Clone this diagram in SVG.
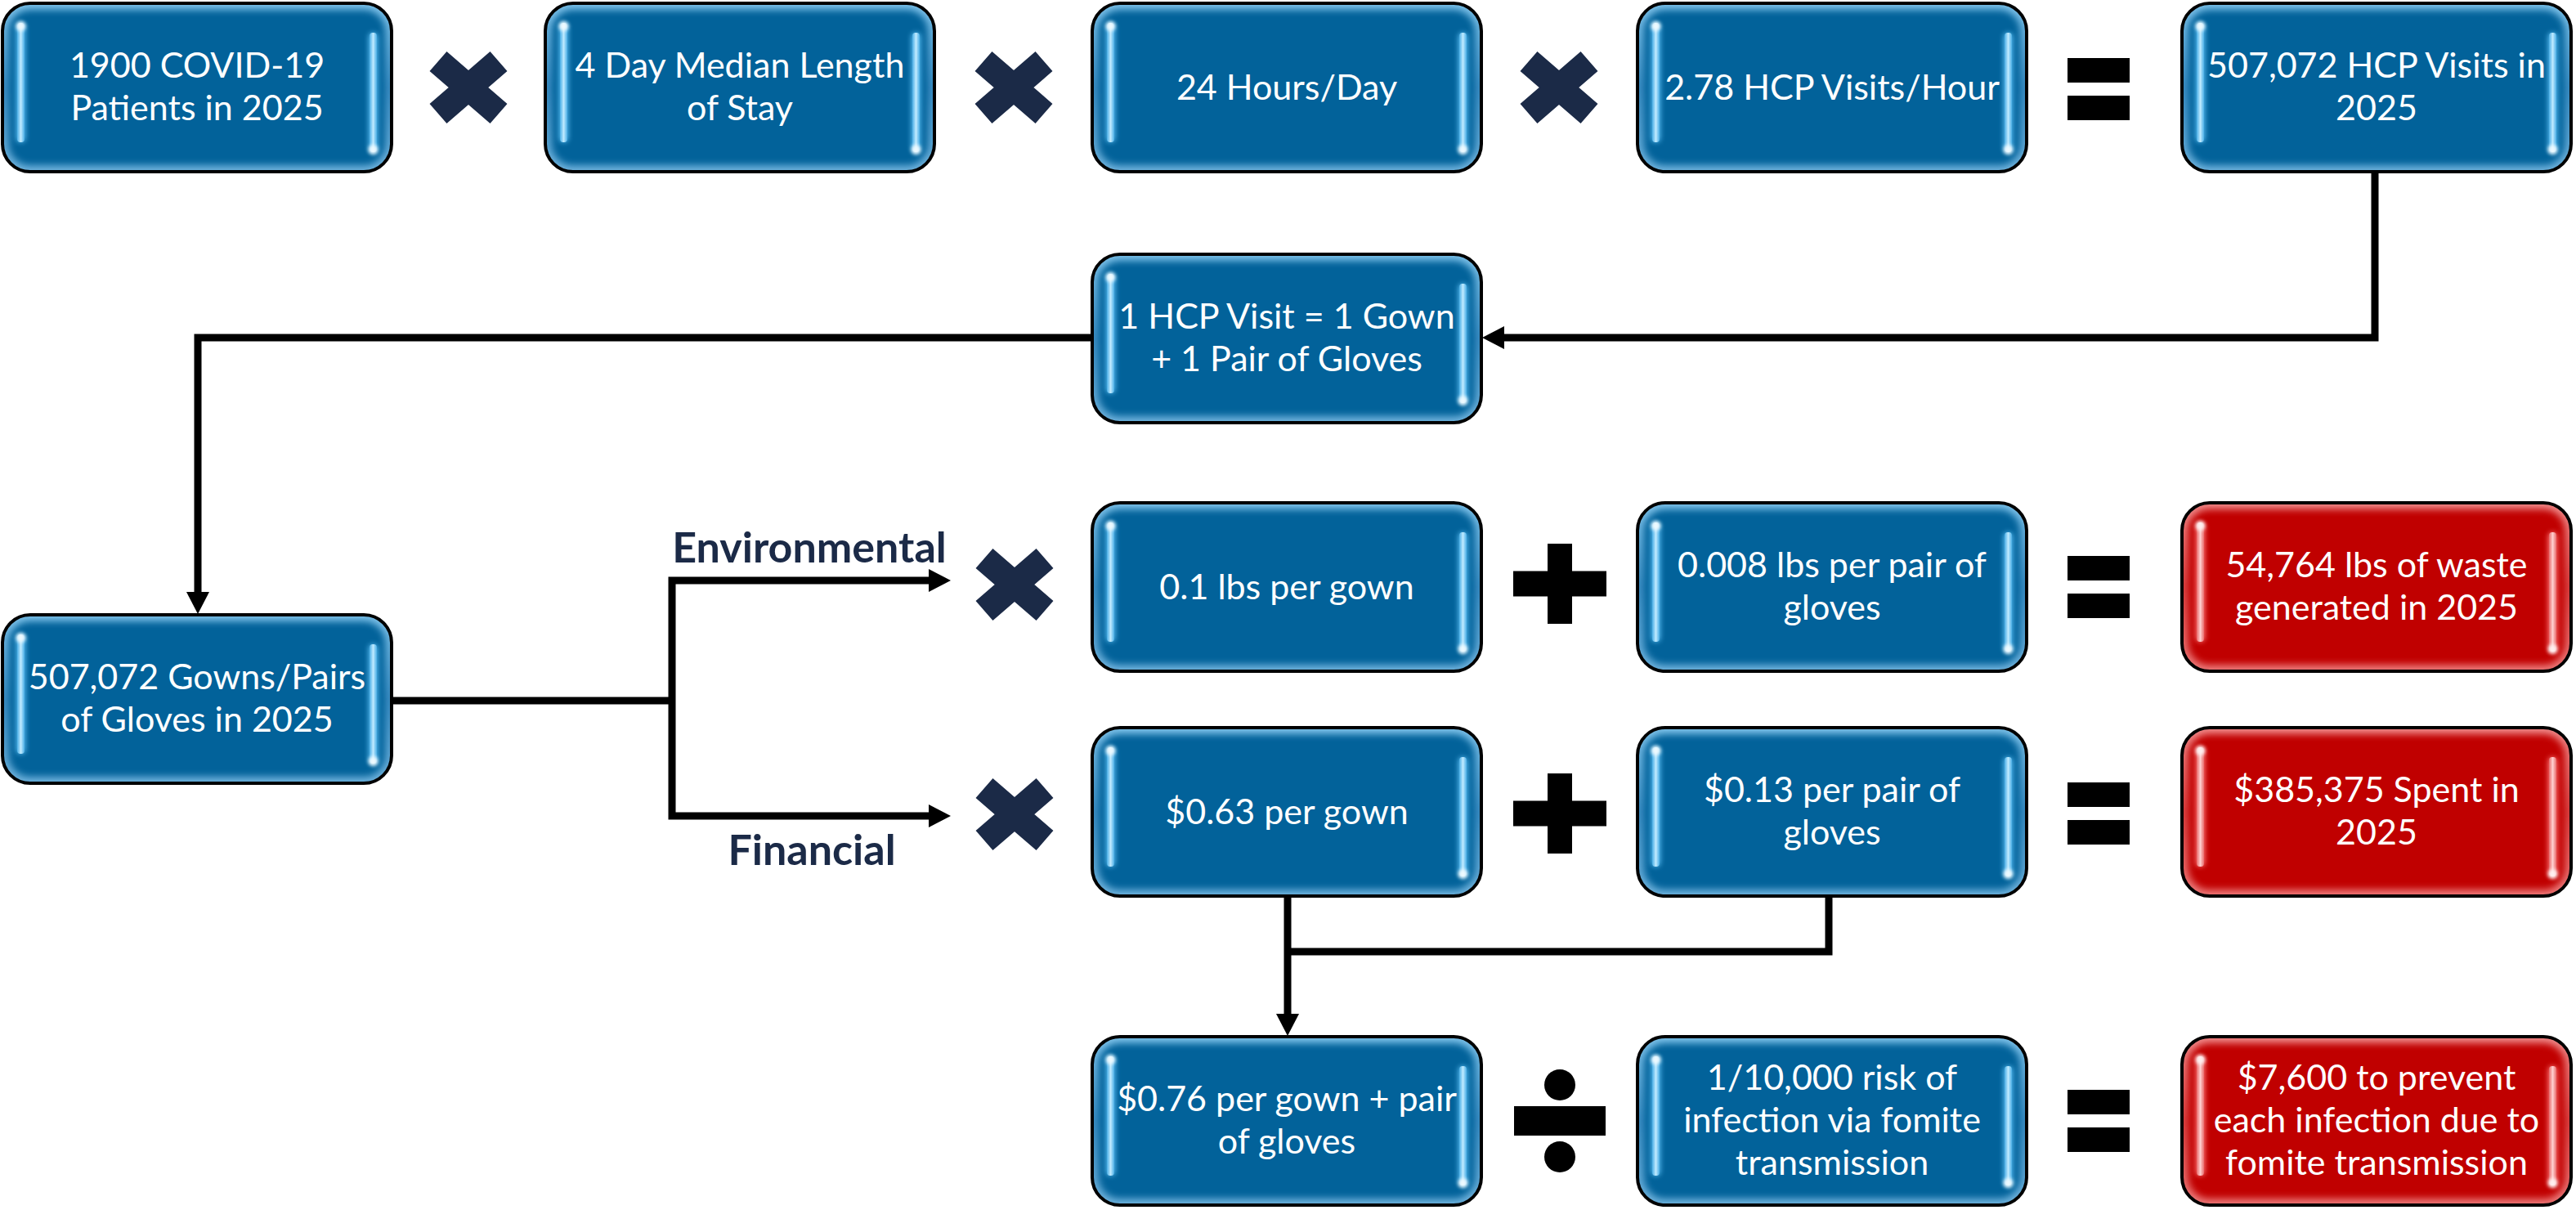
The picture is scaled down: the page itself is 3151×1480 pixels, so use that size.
<svg xmlns="http://www.w3.org/2000/svg" xmlns:xlink="http://www.w3.org/1999/xlink" width="3151" height="1480" viewBox="0 0 3151 1480">
<style>
.t{font-family:Lato,"Liberation Sans",sans-serif;font-size:43px;fill:#fff;text-anchor:middle}
.lbl{font-family:Lato,"Liberation Sans",sans-serif;font-size:52px;font-weight:bold;fill:#1B2A47;text-anchor:middle}
.con{fill:none;stroke:#000;stroke-width:9;stroke-linejoin:miter}
.arr{marker-end:url(#ah)}
.xm{stroke:#1B2A47;stroke-width:32;fill:none}
.op{fill:#000}
</style>
<defs>
<marker id="ah" markerUnits="userSpaceOnUse" markerWidth="28" markerHeight="28" viewBox="0 0 27 28" refX="1" refY="14" orient="auto"><path d="M0,0 L27,14 L0,28 Z" fill="#000"/></marker>
<filter id="soft" x="-10%" y="-10%" width="120%" height="120%"><feGaussianBlur stdDeviation="4"/></filter>
<filter id="soft2" x="-100%" y="-100%" width="300%" height="300%"><feGaussianBlur stdDeviation="2"/></filter>
<filter id="glow" x="-200%" y="-20%" width="500%" height="140%"><feGaussianBlur stdDeviation="3"/></filter>
<clipPath id="boxclip"><rect width="476" height="206" rx="34"/></clipPath>
<linearGradient id="rimB" x1="0" y1="0" x2="0" y2="1"><stop offset="0" stop-color="#7fc3ea"/><stop offset="0.5" stop-color="#3a8cc2"/><stop offset="1" stop-color="#6fb2dc"/></linearGradient>
<linearGradient id="rimR" x1="0" y1="0" x2="0" y2="1"><stop offset="0" stop-color="#f08a8a"/><stop offset="0.5" stop-color="#d84040"/><stop offset="1" stop-color="#ec7a7a"/></linearGradient>
<linearGradient id="stripB" x1="0" y1="0" x2="1" y2="0"><stop offset="0" stop-color="#4aaee6"/><stop offset="0.5" stop-color="#bfeaff"/><stop offset="1" stop-color="#4aaee6"/></linearGradient>
<linearGradient id="stripR" x1="0" y1="0" x2="1" y2="0"><stop offset="0" stop-color="#e86a6a"/><stop offset="0.5" stop-color="#ffd0d0"/><stop offset="1" stop-color="#e86a6a"/></linearGradient>
<g id="bb">
<rect width="476" height="206" rx="34" fill="#02629A"/>
<g clip-path="url(#boxclip)"><rect x="-2" y="-2" width="480" height="210" rx="36" fill="none" stroke="url(#rimB)" stroke-width="20" filter="url(#soft)"/></g>
<rect x="17" y="24" width="11" height="146" rx="5" fill="#5cc0f5" filter="url(#glow)"/>
<rect x="448" y="36" width="11" height="146" rx="5" fill="#5cc0f5" filter="url(#glow)"/>
<rect x="18" y="24" width="9" height="146" rx="4" fill="url(#stripB)"/>
<circle cx="22.5" cy="28" r="6" fill="#eefaff" filter="url(#soft2)"/>
<rect x="449" y="36" width="9" height="146" rx="4" fill="url(#stripB)"/>
<circle cx="453.5" cy="179" r="6" fill="#eefaff" filter="url(#soft2)"/>
<rect width="476" height="206" rx="34" fill="none" stroke="#000" stroke-width="4"/>
</g>
<g id="rb">
<rect width="476" height="206" rx="34" fill="#C00000"/>
<g clip-path="url(#boxclip)"><rect x="-2" y="-2" width="480" height="210" rx="36" fill="none" stroke="url(#rimR)" stroke-width="20" filter="url(#soft)"/></g>
<rect x="17" y="24" width="11" height="146" rx="5" fill="#ff7a7a" filter="url(#glow)"/>
<rect x="448" y="36" width="11" height="146" rx="5" fill="#ff7a7a" filter="url(#glow)"/>
<rect x="18" y="24" width="9" height="146" rx="4" fill="url(#stripR)"/>
<circle cx="22.5" cy="28" r="6" fill="#fff0f0" filter="url(#soft2)"/>
<rect x="449" y="36" width="9" height="146" rx="4" fill="url(#stripR)"/>
<circle cx="453.5" cy="179" r="6" fill="#fff0f0" filter="url(#soft2)"/>
<rect width="476" height="206" rx="34" fill="none" stroke="#000" stroke-width="4"/>
</g>
<g id="xmark"><path class="xm" d="M-37,-32 L37,32 M-37,32 L37,-32"/></g>
<g id="plus"><rect class="op" x="-57" y="-15.5" width="114" height="31"/><rect class="op" x="-15" y="-49" width="30" height="98"/></g>
<g id="eq"><rect class="op" x="-38" y="-38" width="76" height="30"/><rect class="op" x="-38" y="8" width="76" height="30"/></g>
<g id="div"><rect class="op" x="-56" y="-18" width="112" height="36"/><circle class="op" cx="0" cy="-44" r="19"/><circle class="op" cx="0" cy="44" r="19"/></g>
</defs>
<rect width="3151" height="1480" fill="#fff"/>

<g id="node-a"><use href="#bb" x="3" y="4"/><text class="t" x="241" y="95">1900 COVID-19</text><text class="t" x="241" y="147">Patients in 2025</text></g>
<g id="node-b"><use href="#bb" x="667" y="4"/><text class="t" x="905" y="95">4 Day Median Length</text><text class="t" x="905" y="147">of Stay</text></g>
<g id="node-c"><use href="#bb" x="1336" y="4"/><text class="t" x="1574" y="122">24 Hours/Day</text></g>
<g id="node-d"><use href="#bb" x="2003" y="4"/><text class="t" x="2241" y="122">2.78 HCP Visits/Hour</text></g>
<g id="node-e"><use href="#bb" x="2669" y="4"/><text class="t" x="2907" y="95">507,072 HCP Visits in</text><text class="t" x="2907" y="147">2025</text></g>
<g id="node-f"><use href="#bb" x="1336" y="311"/><text class="t" x="1574" y="402">1 HCP Visit = 1 Gown</text><text class="t" x="1574" y="454">+ 1 Pair of Gloves</text></g>
<g id="node-g"><use href="#bb" x="3" y="752"/><text class="t" x="241" y="843">507,072 Gowns/Pairs</text><text class="t" x="241" y="895">of Gloves in 2025</text></g>
<g id="node-h"><use href="#bb" x="1336" y="615"/><text class="t" x="1574" y="733">0.1 lbs per gown</text></g>
<g id="node-i"><use href="#bb" x="2003" y="615"/><text class="t" x="2241" y="706">0.008 lbs per pair of</text><text class="t" x="2241" y="758">gloves</text></g>
<g id="node-j"><use href="#rb" x="2669" y="615"/><text class="t" x="2907" y="706">54,764 lbs of waste</text><text class="t" x="2907" y="758">generated in 2025</text></g>
<g id="node-k"><use href="#bb" x="1336" y="890"/><text class="t" x="1574" y="1008">$0.63 per gown</text></g>
<g id="node-l"><use href="#bb" x="2003" y="890"/><text class="t" x="2241" y="981">$0.13 per pair of</text><text class="t" x="2241" y="1033">gloves</text></g>
<g id="node-m"><use href="#rb" x="2669" y="890"/><text class="t" x="2907" y="981">$385,375 Spent in</text><text class="t" x="2907" y="1033">2025</text></g>
<g id="node-n"><use href="#bb" x="1336" y="1268"/><text class="t" x="1574" y="1359">$0.76 per gown + pair</text><text class="t" x="1574" y="1411">of gloves</text></g>
<g id="node-o"><use href="#bb" x="2003" y="1268"/><text class="t" x="2241" y="1333">1/10,000 risk of</text><text class="t" x="2241" y="1385">infection via fomite</text><text class="t" x="2241" y="1437">transmission</text></g>
<g id="node-p"><use href="#rb" x="2669" y="1268"/><text class="t" x="2907" y="1333">$7,600 to prevent</text><text class="t" x="2907" y="1385">each infection due to</text><text class="t" x="2907" y="1437">fomite transmission</text></g>

<g id="operators">
<use href="#xmark" x="573" y="107"/>
<use href="#xmark" x="1240" y="107"/>
<use href="#xmark" x="1907" y="107"/>
<use href="#eq" x="2567" y="109"/>
<use href="#xmark" x="1241" y="715"/>
<use href="#plus" x="1908" y="714"/>
<use href="#eq" x="2567" y="718"/>
<use href="#xmark" x="1241" y="996"/>
<use href="#plus" x="1908" y="995"/>
<use href="#eq" x="2567" y="995"/>
<use href="#div" x="1908" y="1371"/>
<use href="#eq" x="2567" y="1371"/>
</g>

<g id="labels">
<text class="lbl" x="990" y="688">Environmental</text>
<text class="lbl" x="993" y="1058">Financial</text>
</g>

<g id="connectors">
<path class="con arr" d="M2905,210 V413 H1839"/>
<path class="con arr" d="M1336,413 H242 V725"/>
<path class="con" d="M479,857 H822"/>
<path class="con arr" d="M822,857 V710 H1137"/>
<path class="con arr" d="M822,857 V998 H1137"/>
<path class="con arr" d="M1575,1096 V1241"/>
<path class="con" d="M2237,1096 V1164 H1575"/>
</g>
</svg>
